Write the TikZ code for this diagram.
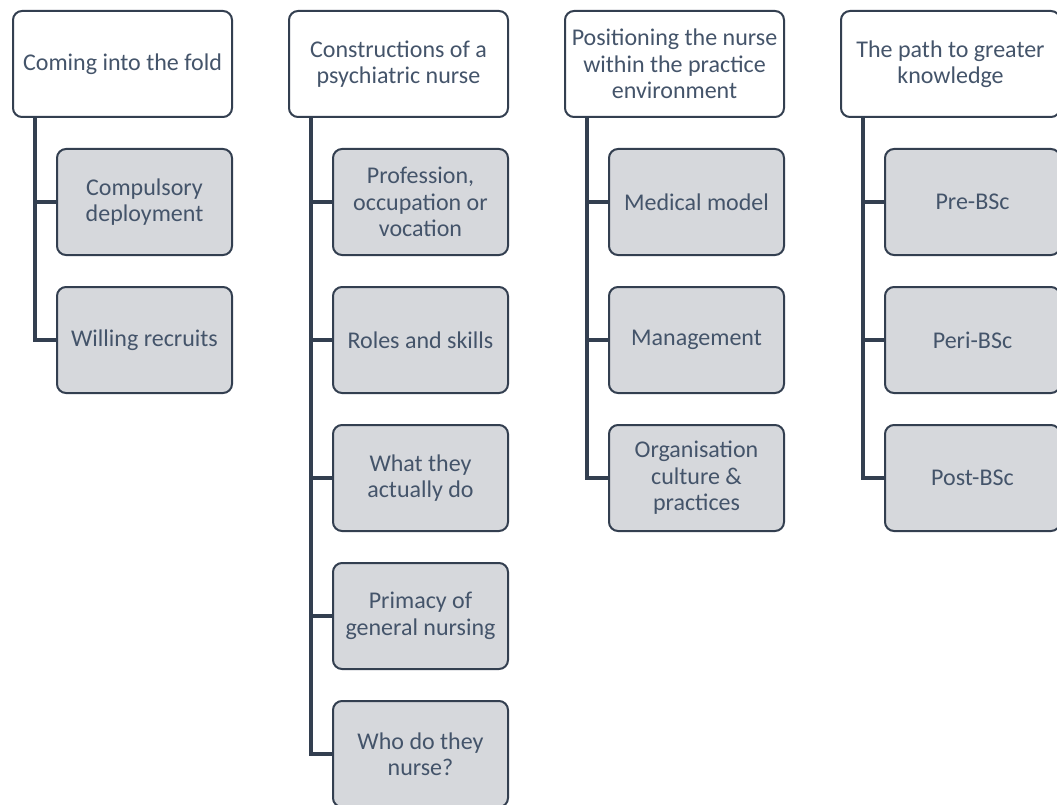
\documentclass[tikz,border=0pt]{standalone}
\usepackage{fontspec}
\setmainfont{Carlito}
\usetikzlibrary{positioning}

\definecolor{slate}{HTML}{333F50}
\definecolor{slatetext}{HTML}{44546A}
\definecolor{boxgray}{HTML}{D6D8DC}

\tikzset{
	topic/.style={draw=slate, line width=2pt, rounded corners=9pt, fill=white, text=slatetext,
		minimum width=219pt, minimum height=106pt, align=center, inner sep=1pt,
		font=\fontsize{24}{26.5}\selectfont},
	theme/.style={topic, fill=boxgray, minimum width=175pt},
	branch/.style={draw=slate, line width=3.2pt}
}

\begin{document}
\begin{tikzpicture}[x=1pt, y=-1pt]
		\fill[white] (0,0) rectangle (1057,805);
		\clip (0,0) rectangle (1057,805);

		% first column
		\node[topic] (fold) at (122.5,64) {Coming into the fold};
		\node[theme] (fold1) at (144.5,202) {Compulsory\\deployment};
		\node[theme] (fold2) at (144.5,340) {Willing recruits};

		% second column
		\node[topic] (nurse) at (398.5,64) {Constructions of a\\psychiatric nurse};
		\node[theme] (nurse1) at (420.5,202) {Profession,\\occupation or\\vocation};
		\node[theme] (nurse2) at (420.5,340) {Roles and skills};
		\node[theme] (nurse3) at (420.5,478) {What they\\actually do};
		\node[theme] (nurse4) at (420.5,616) {Primacy of\\general nursing};
		\node[theme] (nurse5) at (420.5,754) {Who do they\\nurse?};

		% third column
		\node[topic] (place) at (674.5,64) {Positioning the nurse\\within the practice\\environment};
		\node[theme] (place1) at (696.5,202) {Medical model};
		\node[theme] (place2) at (696.5,340) {Management};
		\node[theme] (place3) at (696.5,478) {Organisation\\culture \&\\practices};

		% fourth column
		\node[topic] (path) at (950.5,64) {The path to greater\\knowledge};
		\node[theme] (path1) at (972.5,202) {Pre-BSc};
		\node[theme] (path2) at (972.5,340) {Peri-BSc};
		\node[theme] (path3) at (972.5,478) {Post-BSc};

		% branches down the left side of each column
		\foreach \i in {1,2}
			\draw[branch] ([xshift=23pt]fold.south west) |- (fold\i.west);
		\foreach \i in {1,...,5}
			\draw[branch] ([xshift=23pt]nurse.south west) |- (nurse\i.west);
		\foreach \i in {1,2,3}
			\draw[branch] ([xshift=23pt]place.south west) |- (place\i.west);
		\foreach \i in {1,2,3}
			\draw[branch] ([xshift=23pt]path.south west) |- (path\i.west);
	\end{tikzpicture}
\end{document}
